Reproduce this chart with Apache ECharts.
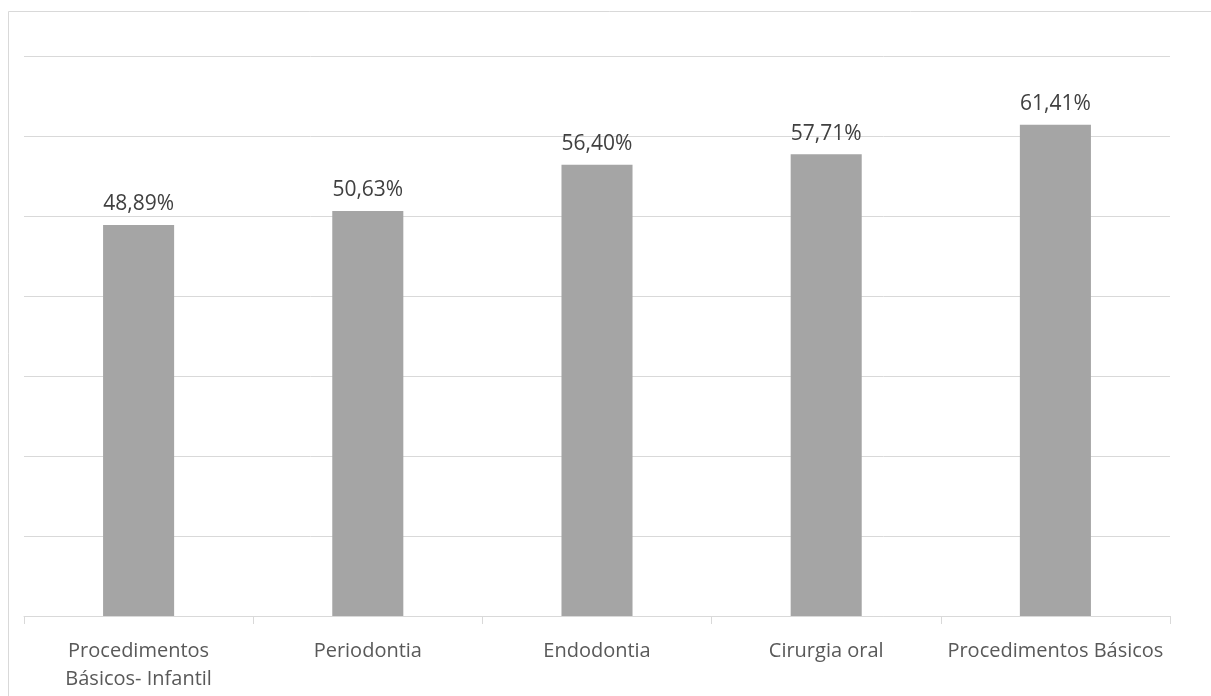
<!DOCTYPE html>
<html>
<head>
<meta charset="utf-8">
<script src="https://cdn.jsdelivr.net/npm/echarts@6/dist/echarts.min.js"></script>
<style>
  html, body { margin: 0; padding: 0; background: #fff; }
  #chart { width: 1211px; height: 696px; }
</style>
</head>
<body>
<div id="chart"></div>
<script>
// Procedure categories and their percentages
const categories = [
  'Procedimentos\nBásicos- Infantil',
  'Periodontia',
  'Endodontia',
  'Cirurgia oral',
  'Procedimentos Básicos'
];
const values = [48.89, 50.63, 56.40, 57.71, 61.41];

const chart = echarts.init(document.getElementById('chart'));
chart.setOption({
  animation: false,
  backgroundColor: '#ffffff',
  graphic: [
    { type: 'line', shape: { x1: 8.5, y1: 11.5, x2: 1211, y2: 11.5 }, style: { stroke: '#d9d9d9', lineWidth: 1 } },
    { type: 'line', shape: { x1: 8.5, y1: 11.5, x2: 8.5, y2: 696 }, style: { stroke: '#d9d9d9', lineWidth: 1 } }
  ],
  grid: { left: 24, right: 41, top: 56, bottom: 80, containLabel: false },
  xAxis: {
    type: 'category',
    data: categories,
    axisLine: { show: true, lineStyle: { color: '#d9d9d9', width: 1 } },
    axisTick: { show: true, length: 8, lineStyle: { color: '#d9d9d9' } },
    axisLabel: {
      color: '#595959',
      fontFamily: 'Open Sans',
      fontSize: 20,
      lineHeight: 28,
      margin: 21,
      interval: 0
    }
  },
  yAxis: {
    type: 'value',
    min: 0,
    max: 70,
    interval: 10,
    axisLabel: { show: false },
    axisLine: { show: false },
    axisTick: { show: false },
    splitLine: { lineStyle: { color: '#d9d9d9', width: 1 } }
  },
  series: [{
    type: 'bar',
    data: values,
    barWidth: '31%',
    itemStyle: { color: '#a5a5a5' },
    label: {
      show: true,
      position: 'top',
      distance: 10,
      color: '#404040',
      fontFamily: 'Open Sans',
      fontSize: 21,
      formatter: p => p.value.toFixed(2).replace('.', ',') + '%'
    }
  }]
});
</script>
</body>
</html>
